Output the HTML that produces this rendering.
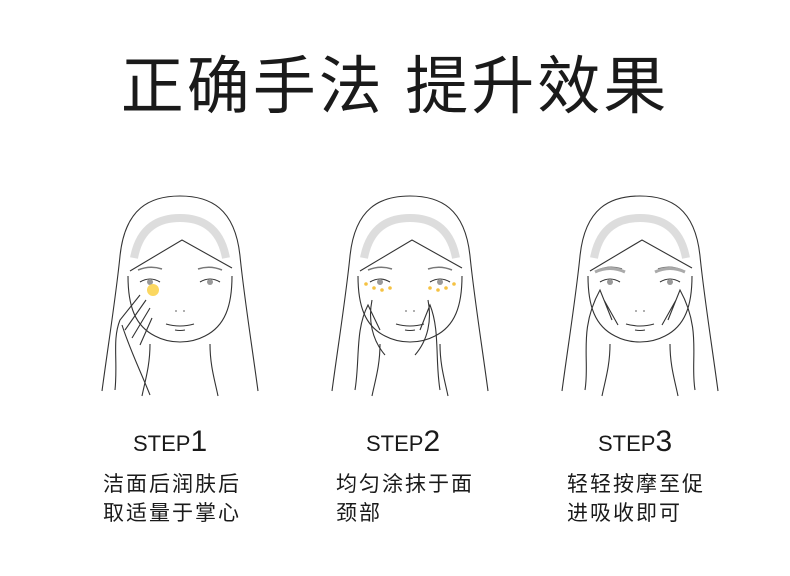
<!DOCTYPE html>
<html><head><meta charset="utf-8"><style>
body{margin:0;width:790px;height:576px;background:#fff;overflow:hidden;position:relative;font-family:"Liberation Sans","Noto Sans CJK SC",sans-serif;color:#1a1a1a}
.t{position:absolute;left:0;width:790px;top:50px;text-align:center;font-size:63px;letter-spacing:3px;line-height:74px;font-family:"Liberation Sans","Noto Sans CJK SC",sans-serif}
.s{position:absolute;font-size:22px;line-height:30px}
.s b{font-weight:normal;font-size:30px}
.d{position:absolute;font-size:21px;line-height:29px;letter-spacing:2px}
svg{position:absolute;left:0;top:0}
</style></head><body>
<div class="t">正确手法 提升效果</div>
<svg width="790" height="576" viewBox="0 0 790 576">
<defs>
<g id="f" fill="none" stroke="#333" stroke-width="1.1">
<path d="M-78,195 C-72,150 -64,100 -60,60 C-55,12 -30,0 0,0 C30,0 55,12 60,60 C64,100 72,150 78,195"/>
<path d="M-46,62 C-40,30 -20,22 0,22 C20,22 40,30 46,62" stroke="#ddd" stroke-width="8"/>
<path d="M-50,75 L2,44 L52,72"/>
<path d="M-52,80 C-52,110 -45,130 -25,140 C-10,148 10,148 25,140 C45,130 52,110 52,80"/>
<path d="M-30,148 C-30,170 -35,185 -38,200 M30,148 C30,170 35,185 38,200"/>
<path d="M-42,74 Q-30,69 -18,73 M18,73 Q30,69 42,74" stroke="#777" stroke-width="1.5"/>
<path d="M-40,86 Q-30,80 -20,86 M20,86 Q30,80 40,86"/>
<circle cx="-30" cy="86" r="3" fill="#999" stroke="none"/><circle cx="30" cy="86" r="3" fill="#999" stroke="none"/>
<circle cx="-4" cy="115" r="0.9" fill="#777" stroke="none"/><circle cx="4" cy="115" r="0.9" fill="#777" stroke="none"/>
<path d="M-14,128 Q0,132 14,128 M-5,134 Q0,135 5,134"/>
</g>
</defs>
<use href="#f" x="180" y="196"/>
<use href="#f" x="410" y="196"/>
<use href="#f" x="640" y="196"/>
<circle cx="153" cy="290" r="6" fill="#fbd760"/>
<g fill="none" stroke="#333" stroke-width="1.1">
<path d="M115,390 C118,360 112,340 120,320 L140,295 M125,330 L146,300 M132,338 L150,308 M140,345 L152,318 M122,325 C130,350 140,370 150,395"/>
<path d="M355,390 C360,360 355,330 368,305 L380,330 M440,390 C435,360 440,330 430,305 L420,330 M372,300 C368,320 372,340 385,355 M428,300 C432,320 428,340 415,355"/>
<path d="M585,390 C590,360 578,330 600,290 L612,320 M695,390 C690,360 702,330 680,290 L668,320 M604,300 L618,325 M676,300 L662,325"/>
<path d="M595,272 Q610,265 625,272 M655,272 Q670,265 685,272" stroke="#aaa" stroke-width="3"/>
</g>
<g fill="#f5c242">
<circle cx="366" cy="284" r="1.8"/><circle cx="374" cy="288" r="1.8"/><circle cx="382" cy="290" r="1.8"/><circle cx="390" cy="288" r="1.8"/>
<circle cx="430" cy="288" r="1.8"/><circle cx="438" cy="290" r="1.8"/><circle cx="446" cy="288" r="1.8"/><circle cx="454" cy="284" r="1.8"/>
</g>
</svg>
<div class="s" style="left:133px;top:427px">STEP<b>1</b></div>
<div class="s" style="left:366px;top:427px">STEP<b>2</b></div>
<div class="s" style="left:598px;top:427px">STEP<b>3</b></div>
<div class="d" style="left:103px;top:470px">洁面后润肤后<br>取适量于掌心</div>
<div class="d" style="left:336px;top:470px">均匀涂抹于面<br>颈部</div>
<div class="d" style="left:567px;top:470px">轻轻按摩至促<br>进吸收即可</div>
</body></html>
